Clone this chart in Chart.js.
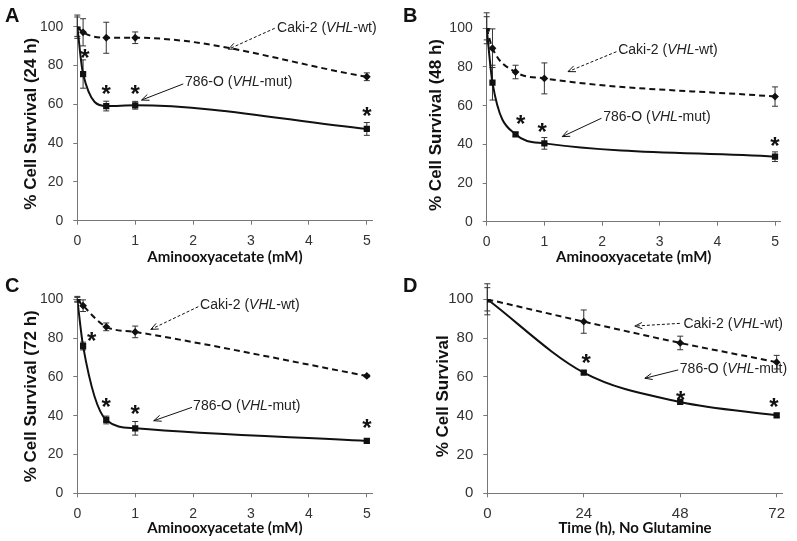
<!DOCTYPE html>
<html>
<head>
<meta charset="utf-8">
<script src="https://cdn.jsdelivr.net/npm/chart.js@4.4.1/dist/chart.umd.min.js"></script>
<style>
  body { margin: 0; background: #fff; }
  .panel { position: absolute; }
</style>
</head>
<body>
<div class="panel" style="left:0;top:0;width:398px;height:270px"><canvas id="chartA"></canvas></div>
<div class="panel" style="left:398px;top:0;width:399px;height:270px"><canvas id="chartB"></canvas></div>
<div class="panel" style="left:0;top:270px;width:398px;height:271px"><canvas id="chartC"></canvas></div>
<div class="panel" style="left:398px;top:270px;width:399px;height:271px"><canvas id="chartD"></canvas></div>
<script>
// x values
var doseAOA = [0, 0.1, 0.5, 1, 5];      // mM
var hoursNoGln = [0, 24, 48, 72];       // h

// % cell survival, 24 h
var mut24 = [100, 75.6, 59.1, 59.5, 47.3];
var mut24Err = [6, 7.3, 2.5, 2, 3.3];
var wt24 = [100, 97.1, 94.3, 94.3, 74.2];
var wt24Err = [5, 7, 8, 3, 2];

// 48 h
var mut48 = [100, 71.9, 45.2, 40.5, 33.6];
var mut48Err = [8, 9, 1, 3, 2.5];
var wt48 = [100, 89.7, 77.4, 74.1, 64.7];
var wt48Err = [6, 10, 3.5, 8, 5];

// 72 h
var mut72 = [100, 75.9, 37.8, 33.5, 27];
var mut72Err = [1.5, 2, 2, 3.5, 1];
var wt72 = [100, 96.7, 85.8, 83.2, 60.5];
var wt72Err = [1, 3, 2, 3, 0.5];

// no glutamine
var mutGln = [100, 62.2, 47.1, 40.2];
var mutGlnErr = [8, 0.8, 1, 1];
var wtGln = [100, 88.5, 77.5, 67.6];
var wtGlnErr = [6, 6, 3.5, 3.5];

var yTicks = [0, 20, 40, 60, 80, 100];

Chart.defaults.font.family = 'Liberation Sans';
Chart.defaults.color = '#333';

function toPoints(xs, ys) {
    var pts = [];
    for (var i = 0; i < xs.length; i++) {
        pts.push({ x: xs[i], y: ys[i] });
    }
    return pts;
}

function drawArrow(ctx, x1, y1, x2, y2, dashed) {
    ctx.save();
    ctx.strokeStyle = '#111';
    ctx.lineWidth = 1;
    if (dashed) ctx.setLineDash([3, 2]);
    ctx.beginPath();
    ctx.moveTo(x1, y1);
    ctx.lineTo(x2, y2);
    ctx.stroke();
    ctx.setLineDash([]);
    var a = Math.atan2(y1 - y2, x1 - x2);
    var len = 8;
    ctx.beginPath();
    ctx.moveTo(x2 + len * Math.cos(a + 0.4), y2 + len * Math.sin(a + 0.4));
    ctx.lineTo(x2, y2);
    ctx.lineTo(x2 + len * Math.cos(a - 0.4), y2 + len * Math.sin(a - 0.4));
    ctx.stroke();
    ctx.restore();
}

function drawLabel(ctx, x, y, parts) {
    ctx.save();
    ctx.fillStyle = '#222';
    ctx.textBaseline = 'middle';
    ctx.textAlign = 'left';
    for (var i = 0; i < parts.length; i++) {
        ctx.font = (parts[i].italic ? 'italic ' : '') + '14px "Liberation Sans"';
        ctx.fillText(parts[i].t, x, y);
        x += ctx.measureText(parts[i].t).width;
    }
    ctx.restore();
}

function labelParts(name, tag) {
    return [{ t: name + ' (' }, { t: 'VHL', italic: true }, { t: '-' + tag + ')' }];
}

// error bars, asterisks, callouts and the panel letter
var extrasPlugin = {
    id: 'extras',
    beforeDatasetsDraw: function (chart) {
        var o = chart.options.plugins.extras;
        var ctx = chart.ctx;
        var xs = chart.scales.x, ys = chart.scales.y;
        ctx.save();
        ctx.strokeStyle = '#333';
        ctx.lineWidth = 1;
        chart.data.datasets.forEach(function (ds, di) {
            var err = o.errors[di];
            ds.data.forEach(function (p, i) {
                var px = xs.getPixelForValue(p.x);
                var top = ys.getPixelForValue(p.y + err[i]);
                var bot = ys.getPixelForValue(p.y - err[i]);
                ctx.beginPath();
                ctx.moveTo(px, top); ctx.lineTo(px, bot);
                ctx.moveTo(px - 3, top); ctx.lineTo(px + 3, top);
                ctx.moveTo(px - 3, bot); ctx.lineTo(px + 3, bot);
                ctx.stroke();
            });
        });
        ctx.restore();
    },
    afterDraw: function (chart) {
        var o = chart.options.plugins.extras;
        var ctx = chart.ctx;
        var xs = chart.scales.x, ys = chart.scales.y;
        function px(v) { return xs.getPixelForValue(v); }
        function py(v) { return ys.getPixelForValue(v); }

        ctx.save();
        ctx.fillStyle = '#111';
        ctx.font = 'bold 24px "Liberation Sans"';
        ctx.textAlign = 'center';
        ctx.textBaseline = 'alphabetic';
        o.stars.forEach(function (s) {
            ctx.fillText('*', px(s[0]), py(s[1]) + 13.8);
        });

        ctx.textAlign = 'left';
        ctx.textBaseline = 'top';
        ctx.font = 'bold 20px "Liberation Sans"';
        ctx.fillText(o.letter, 5, 6);
        ctx.restore();

        o.callouts.forEach(function (c) {
            drawLabel(ctx, px(c.text[0]), py(c.text[1]), c.parts);
            drawArrow(ctx, px(c.from[0]), py(c.from[1]), px(c.to[0]), py(c.to[1]), c.dashed);
        });
    }
};

function makePanel(id, p) {
    var ctx = document.getElementById(id).getContext('2d');
    return new Chart(ctx, {
        type: 'scatter',
        plugins: [extrasPlugin],
        data: {
            datasets: [{
                data: toPoints(p.x, p.mut),
                showLine: true,
                borderColor: '#111',
                backgroundColor: '#111',
                borderWidth: 2,
                pointStyle: 'rect',
                pointRadius: 3,
                cubicInterpolationMode: 'monotone'
            }, {
                data: toPoints(p.x, p.wt),
                showLine: true,
                borderColor: '#111',
                backgroundColor: '#111',
                borderWidth: 2,
                borderDash: [6, 4],
                pointStyle: 'rectRot',
                pointRadius: 2.5,
                cubicInterpolationMode: 'monotone'
            }]
        },
        options: {
            responsive: true,
            maintainAspectRatio: false,
            animation: false,
            layout: { padding: p.pad },
            plugins: {
                legend: { display: false },
                tooltip: { enabled: false },
                extras: {
                    letter: p.letter,
                    errors: [p.mutErr, p.wtErr],
                    stars: p.stars,
                    callouts: p.callouts
                }
            },
            scales: {
                x: {
                    type: 'linear',
                    min: 0,
                    max: p.xMax,
                    afterFit: function (s) { s.height = p.xAxisH; },
                    ticks: {
                        stepSize: p.xStep,
                        includeBounds: false,
                        padding: 8,
                        font: { size: p.tickSize }
                    },
                    grid: { drawOnChartArea: false, tickLength: 4, color: '#777' },
                    border: { color: '#777' },
                    title: {
                        display: true,
                        text: p.xTitle,
                        color: '#111',
                        font: { family: 'Lato', weight: 'bold', size: 15 },
                        padding: { top: 0, bottom: 2 }
                    }
                },
                y: {
                    min: 0,
                    max: 100,
                    afterFit: function (s) { s.width = p.yAxisW; },
                    afterBuildTicks: function (s) {
                        s.ticks = yTicks.map(function (v) { return { value: v }; });
                    },
                    ticks: { padding: 10, font: { size: p.tickSize } },
                    grid: { drawOnChartArea: false, tickLength: 4, color: '#777' },
                    border: { color: '#777' },
                    title: {
                        display: true,
                        text: p.yTitle,
                        color: '#111',
                        font: { weight: 'bold', size: 17 },
                        padding: { top: 7, bottom: 0 }
                    }
                }
            }
        }
    });
}

var wtParts = labelParts('Caki-2', 'wt');
var mutParts = labelParts('786-O', 'mut');

makePanel('chartA', {
    letter: 'A', x: doseAOA, mut: mut24, mutErr: mut24Err, wt: wt24, wtErr: wt24Err,
    xMax: 5.1, xStep: 1, tickSize: 14,
    xTitle: 'Aminooxyacetate (mM)', yTitle: '% Cell Survival (24 h)',
    pad: { left: 14, top: 26.7, right: 25.4, bottom: 2 }, yAxisW: 63.3, xAxisH: 47.3,
    stars: [[0.13, 86.8], [0.5, 68.4], [1, 68.4], [5, 57]],
    callouts: [
        { parts: wtParts, text: [3.45, 99.5], from: [3.41, 99.2], to: [2.61, 88.4], dashed: true },
        { parts: mutParts, text: [1.86, 71.5], from: [1.83, 70.5], to: [1.11, 62.2], dashed: false }
    ]
});

makePanel('chartB', {
    letter: 'B', x: doseAOA, mut: mut48, mutErr: mut48Err, wt: wt48, wtErr: wt48Err,
    xMax: 5.1, xStep: 1, tickSize: 14,
    xTitle: 'Aminooxyacetate (mM)', yTitle: '% Cell Survival (48 h)',
    pad: { left: 21, top: 28.3, right: 16.2, bottom: 2 }, yAxisW: 67.7, xAxisH: 46.3,
    stars: [[0.59, 53.5], [0.96, 49.5], [5, 42.2]],
    callouts: [
        { parts: wtParts, text: [2.28, 88.8], from: [2.25, 87.9], to: [1.41, 77.6], dashed: true },
        { parts: mutParts, text: [2.02, 54.3], from: [1.99, 53.5], to: [1.31, 44], dashed: false }
    ]
});

makePanel('chartC', {
    letter: 'C', x: doseAOA, mut: mut72, mutErr: mut72Err, wt: wt72, wtErr: wt72Err,
    xMax: 5.1, xStep: 1, tickSize: 14,
    xTitle: 'Aminooxyacetate (mM)', yTitle: '% Cell Survival (72 h)',
    pad: { left: 14, top: 29.3, right: 25.4, bottom: 2 }, yAxisW: 63.3, xAxisH: 45.7,
    stars: [[0.25, 81.6], [0.5, 47.6], [1, 43.8], [5, 36.4]],
    callouts: [
        { parts: wtParts, text: [2.12, 97], from: [2.09, 96.2], to: [1.27, 84.5], dashed: true },
        { parts: mutParts, text: [2.0, 45], from: [1.98, 44.3], to: [1.32, 37.4], dashed: false }
    ]
});

makePanel('chartD', {
    letter: 'D', x: hoursNoGln, mut: mutGln, mutErr: mutGlnErr, wt: wtGln, wtErr: wtGlnErr,
    xMax: 73.5, xStep: 24, tickSize: 15,
    xTitle: 'Time (h), No Glutamine', yTitle: '% Cell Survival',
    pad: { left: 28, top: 29.3, right: 14.3, bottom: 2 }, yAxisW: 61.3, xAxisH: 45.7,
    stars: [[24.6, 70.1], [48.1, 51.2], [71.3, 47.6]],
    callouts: [
        { parts: wtParts, text: [48.8, 87.3], from: [47.9, 87.6], to: [36.7, 86.2], dashed: true },
        { parts: mutParts, text: [47.9, 63.9], from: [47.5, 63.6], to: [39.2, 59.3], dashed: false }
    ]
});
</script>
</body>
</html>
